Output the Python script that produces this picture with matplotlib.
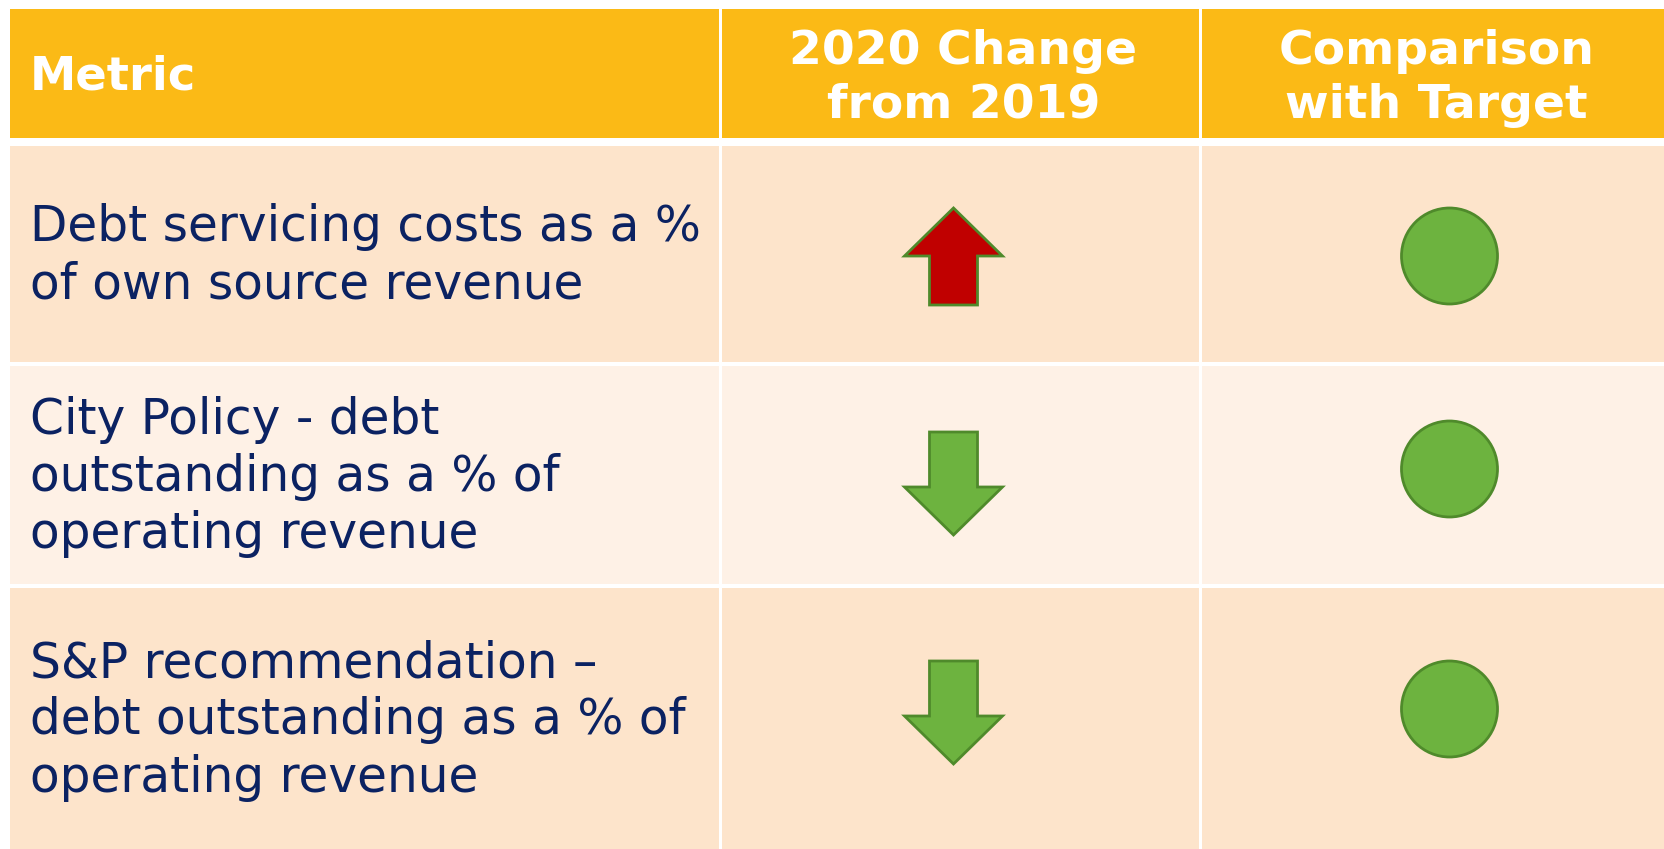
import matplotlib.pyplot as plt
from matplotlib.patches import Rectangle, Polygon, Circle
import numpy as np

# table content
headers = ["Metric", "2020 Change\nfrom 2019", "Comparison\nwith Target"]
metrics = [
    "Debt servicing costs as a %\nof own source revenue",
    "City Policy - debt\noutstanding as a % of\noperating revenue",
    "S&P recommendation \u2013\ndebt outstanding as a % of\noperating revenue",
]
change = [1, -1, -1]          # +1 up (worse), -1 down (better)
status = ["green", "green", "green"]

# layout in pixels
W, H = 1665, 849
col_x = [(10, 719), (722, 1199), (1202, 1665)]
row_y = [(9, 138), (146, 362), (366, 584), (588, 849)]
arrow_base_y = [256, 487, 716]   # where the arrow head meets the shaft
dot_y = [256, 469, 709]
gold = "#FBBA16"
row_colors = ["#FDE4CB", "#FEF1E6", "#FDE4CB"]
navy = "#0B2262"
arrow_colors = {1: "#C00000", -1: "#6DB33F"}
dot_colors = {"green": "#6DB33F"}
edge = "#4F8A2B"

fig = plt.figure(figsize=(W / 100, H / 100), dpi=100)
ax = fig.add_axes([0, 0, 1, 1])
ax.set_xlim(0, W)
ax.set_ylim(H, 0)
ax.axis('off')

# header
for (x0, x1), text in zip(col_x, headers):
    y0, y1 = row_y[0]
    ax.add_patch(Rectangle((x0, y0), x1 - x0, y1 - y0, color=gold, lw=0))
    if text == "Metric":
        ax.text(x0 + 20, (y0 + y1) / 2 + 3, text, color="white", fontsize=33.5,
                fontweight="bold", ha="left", va="center")
    else:
        ax.text((x0 + x1) / 2 + 3, (y0 + y1) / 2 + 5, text, color="white",
                fontsize=34, fontweight="bold", ha="center", va="center",
                linespacing=1.25)

head, half_w, half_shaft = 48, 49, 24

for i, (metric, ch, st) in enumerate(zip(metrics, change, status)):
    y0, y1 = row_y[i + 1]
    yc = (y0 + y1) / 2
    for (x0, x1) in col_x:
        ax.add_patch(Rectangle((x0, y0), x1 - x0, y1 - y0,
                               color=row_colors[i], lw=0))
    ax.text(col_x[0][0] + 20, yc + 2, metric, color=navy, fontsize=35,
            ha="left", va="center", linespacing=1.24)

    # change arrow: head points up for +1, down for -1
    cx = (col_x[1][0] + col_x[1][1]) / 2 - 7
    by = arrow_base_y[i]
    shaft = 49 if ch > 0 else 55
    tip = by - ch * head
    end = by + ch * shaft
    pts = [(cx, tip), (cx + half_w, by), (cx + half_shaft, by),
           (cx + half_shaft, end), (cx - half_shaft, end),
           (cx - half_shaft, by), (cx - half_w, by)]
    ax.add_patch(Polygon(pts, closed=True, facecolor=arrow_colors[ch],
                         edgecolor=edge, lw=2, joinstyle="miter"))

    # target dot
    dx = (col_x[2][0] + col_x[2][1]) / 2 + 16
    ax.add_patch(Circle((dx, dot_y[i]), 48, facecolor=dot_colors[st],
                        edgecolor=edge, lw=2))

fig.savefig("out.png", dpi=100)
